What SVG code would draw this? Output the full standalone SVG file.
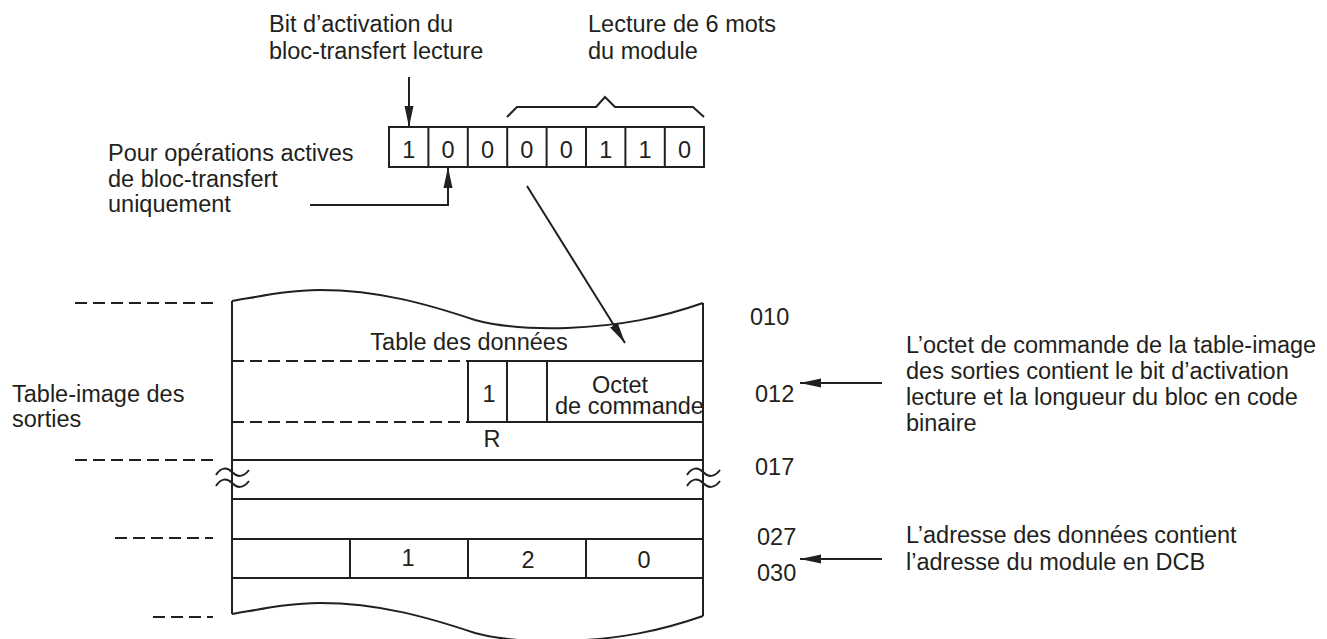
<svg xmlns="http://www.w3.org/2000/svg" width="1327" height="639" viewBox="0 0 1327 639">
<style>
text{font-family:"Liberation Sans",Arial,sans-serif;font-size:23.5px;fill:#231f20}
.c{text-anchor:middle}
.ln{fill:none;stroke:#231f20;stroke-width:2}
.ds{fill:none;stroke:#231f20;stroke-width:2;stroke-dasharray:12 6}
</style>
<defs>
<marker id="ah" markerUnits="userSpaceOnUse" markerWidth="22" markerHeight="10" refX="21" refY="5" orient="auto">
<path d="M0,0.5 L21,5 L0,9.5 z" fill="#231f20"/>
</marker>
</defs>
<rect width="1327" height="639" fill="#fff"/>

<g id="bits">
<rect x="389" y="127" width="315" height="40" class="ln"/>
<path class="ln" d="M428.4,127V167M467.8,127V167M507.2,127V167M546.6,127V167M586,127V167M625.4,127V167M664.8,127V167"/>
<text class="c" x="408.7" y="158">1</text>
<text class="c" x="448.1" y="158">0</text>
<text class="c" x="487.5" y="158">0</text>
<text class="c" x="526.9" y="158">0</text>
<text class="c" x="566.3" y="158">0</text>
<text class="c" x="605.7" y="158">1</text>
<text class="c" x="645.1" y="158">1</text>
<text class="c" x="684.5" y="158">0</text>
</g>

<g id="brace">
<path class="ln" d="M507,117 L517,107 L596,107 L605,97 L615,107 L693,107 L704,117"/>
</g>

<g id="label-bit">
<text x="269" y="32">Bit d’activation du</text>
<text x="269" y="59">bloc-transfert lecture</text>
</g>
<g id="label-lecture">
<text x="588" y="32">Lecture de 6 mots</text>
<text x="588" y="59">du module</text>
</g>
<g id="label-pour">
<text x="108" y="161">Pour opérations actives</text>
<text x="108" y="187">de bloc-transfert</text>
<text x="108" y="212">uniquement</text>
</g>
<g id="label-table-image">
<text x="12" y="402">Table-image des</text>
<text x="12" y="427">sorties</text>
</g>
<g id="label-octet">
<text x="906" y="353">L’octet de commande de la table-image</text>
<text x="906" y="379">des sorties contient le bit d’activation</text>
<text x="906" y="405">lecture et la longueur du bloc en code</text>
<text x="906" y="431">binaire</text>
</g>
<g id="label-adresse">
<text x="906" y="543">L’adresse des données contient</text>
<text x="906" y="570">l’adresse du module en DCB</text>
</g>

<g id="left-dashes">
<path class="ds" d="M75,303H213M75,460H213M115,538H213M153,617H213"/>
</g>

<g id="table">
<path class="ln" d="M232,301 C262,296 290,290 320,290 C380,290 430,305 475,320 C505,328 535,329 567,328 C620,326 660,318 703,303"/>
<path class="ln" d="M232,614 C262,609 290,603 320,603 C380,603 430,618 475,633 C505,641 535,642 567,641 C620,639 660,631 703,616"/>
<path class="ln" d="M232,301V614M703,303V616"/>
<path class="ds" d="M232,361H468M232,422H468"/>
<path class="ln" d="M468,361H703M468,422H703M232,460H703M232,499H703M232,539H703M232,578H703"/>
<path class="ln" d="M468,361V422M507,361V422M547,361V422"/>
<path class="ln" d="M350,539V578M468,539V578M586,539V578"/>
<path class="ln" d="M216,475 C221,467 227,467 232,472 S243,478 249,470M216,486 C221,478 227,478 232,483 S243,489 249,481"/>
<path class="ln" d="M687,475 C692,467 698,467 703,472 S714,478 720,470M687,486 C692,478 698,478 703,483 S714,489 720,481"/>
<text class="c" x="469" y="350">Table des données</text>
<text class="c" x="489" y="402">1</text>
<text class="c" x="620" y="393">Octet</text>
<text x="555" y="414">de commande</text>
<text class="c" x="492" y="447">R</text>
<text class="c" x="408" y="566">1</text>
<text class="c" x="528" y="568">2</text>
<text class="c" x="644" y="568">0</text>
</g>

<g id="addresses">
<text x="750" y="325">010</text>
<text x="755" y="402">012</text>
<text x="755" y="475">017</text>
<text x="757" y="545">027</text>
<text x="757" y="581">030</text>
</g>

<g id="connectors">
<path class="ln" d="M409,77V127" marker-end="url(#ah)"/>
<path class="ln" d="M310,205H448V167" marker-end="url(#ah)"/>
<path class="ln" d="M527,186L625,343" marker-end="url(#ah)"/>
<path class="ln" d="M882,383H800" marker-end="url(#ah)"/>
<path class="ln" d="M882,559H800" marker-end="url(#ah)"/>
</g>
</svg>
